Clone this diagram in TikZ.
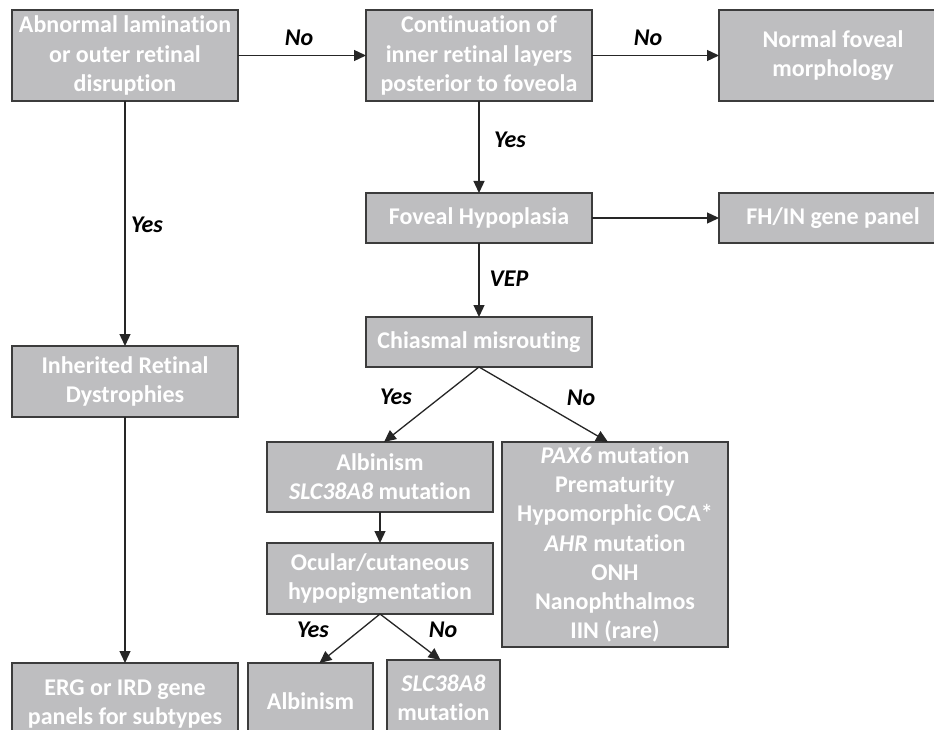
\documentclass[tikz,border=0pt]{standalone}
\usepackage{fontspec}
\setmainfont{Carlito}[RawFeature={-liga;-clig;-dlig}]
\usetikzlibrary{arrows.meta}
\definecolor{boxfill}{RGB}{190,190,192}
\definecolor{boxline}{RGB}{60,60,60}
\begin{document}
\begin{tikzpicture}[x=1pt,y=-1pt,
  box/.style={draw=boxline, line width=1.6pt, fill=boxfill, text=white,
    font=\fontsize{24}{29.2}\selectfont\bfseries, align=center,
    inner sep=0pt, outer sep=0pt, rectangle},
  lbl/.style={font=\fontsize{24}{29}\selectfont\bfseries\itshape, text=black, inner sep=0pt},
  conn/.style={line width=1.3pt, draw=black!85, -{Triangle[length=12pt,width=11pt]}}]
\useasboundingbox (0,0) rectangle (934,730);
\clip (0,0) rectangle (934,730);
\fill[white] (0,0) rectangle (934,730);
% boxes
\node[box, minimum width=226, minimum height=91] (A) at (125,55.5) {Abnormal lamination\\or outer retinal\\disruption};
\node[box, minimum width=226, minimum height=91] (B) at (479,55.5) {Continuation of\\inner retinal layers\\posterior to foveola};
\node[box, minimum width=228, minimum height=91] (C) at (833,55.5) {Normal foveal\\morphology};
\node[box, minimum width=226, minimum height=50] (D) at (479,218) {Foveal Hypoplasia};
\node[box, minimum width=228, minimum height=50] (E) at (833,218) {FH/IN gene panel};
\node[box, minimum width=226, minimum height=71] (F) at (125,381.5) {Inherited Retinal\\Dystrophies};
\node[box, minimum width=226, minimum height=82] (G) at (125,704) {ERG or IRD gene\\panels for subtypes};
\node[box, minimum width=226, minimum height=50] (H) at (479,342) {Chiasmal misrouting};
\node[box, minimum width=226, minimum height=70] (I) at (380,477) {Albinism\\\textit{SLC38A8} mutation};
\node[box, minimum width=226, minimum height=205] (J) at (615,544.5) {\textit{PAX6} mutation\\Prematurity\\Hypomorphic OCA*\\\textit{AHR} mutation\\ONH\\Nanophthalmos\\IIN (rare)};
\node[box, minimum width=226, minimum height=71] (K) at (380,578.5) {Ocular/cutaneous\\hypopigmentation};
\node[box, minimum width=125, minimum height=76] (L) at (310.5,701) {Albinism};
\node[box, minimum width=113, minimum height=76] (M) at (443.5,698) {\textit{SLC38A8}\\mutation};
% connectors
\draw[conn] (A.east) -- (B.west);
\draw[conn] (B.east) -- (C.west);
\draw[conn] (B.south) -- (D.north);
\draw[conn] (D.east) -- (E.west);
\draw[conn] (A.south) -- (F.north);
\draw[conn] (F.south) -- (G.north);
\draw[conn] (D.south) -- (H.north);
\draw[conn] (H.south) -- ([xshift=4pt]I.north);
\draw[conn] (H.south) -- ([xshift=-7pt]J.north);
\draw[conn] (I.south) -- (K.north);
\draw[conn] (K.south) -- ([xshift=9pt]L.north);
\draw[conn] (K.south) -- ([xshift=-3pt]M.north);
% labels
\node[lbl] (l1) at (299,38) {No};
\node[lbl] (l2) at (648,38) {No};
\node[lbl] (l3) at (510,140) {Yes};
\node[lbl] (l4) at (147,225) {Yes};
\node[lbl] (l5) at (509,279) {VEP};
\node[lbl] (l6) at (396,397) {Yes};
\node[lbl] (l7) at (581,398) {No};
\node[lbl] (l8) at (313,630) {Yes};
\node[lbl] (l9) at (443,630) {No};
\end{tikzpicture}
\end{document}
